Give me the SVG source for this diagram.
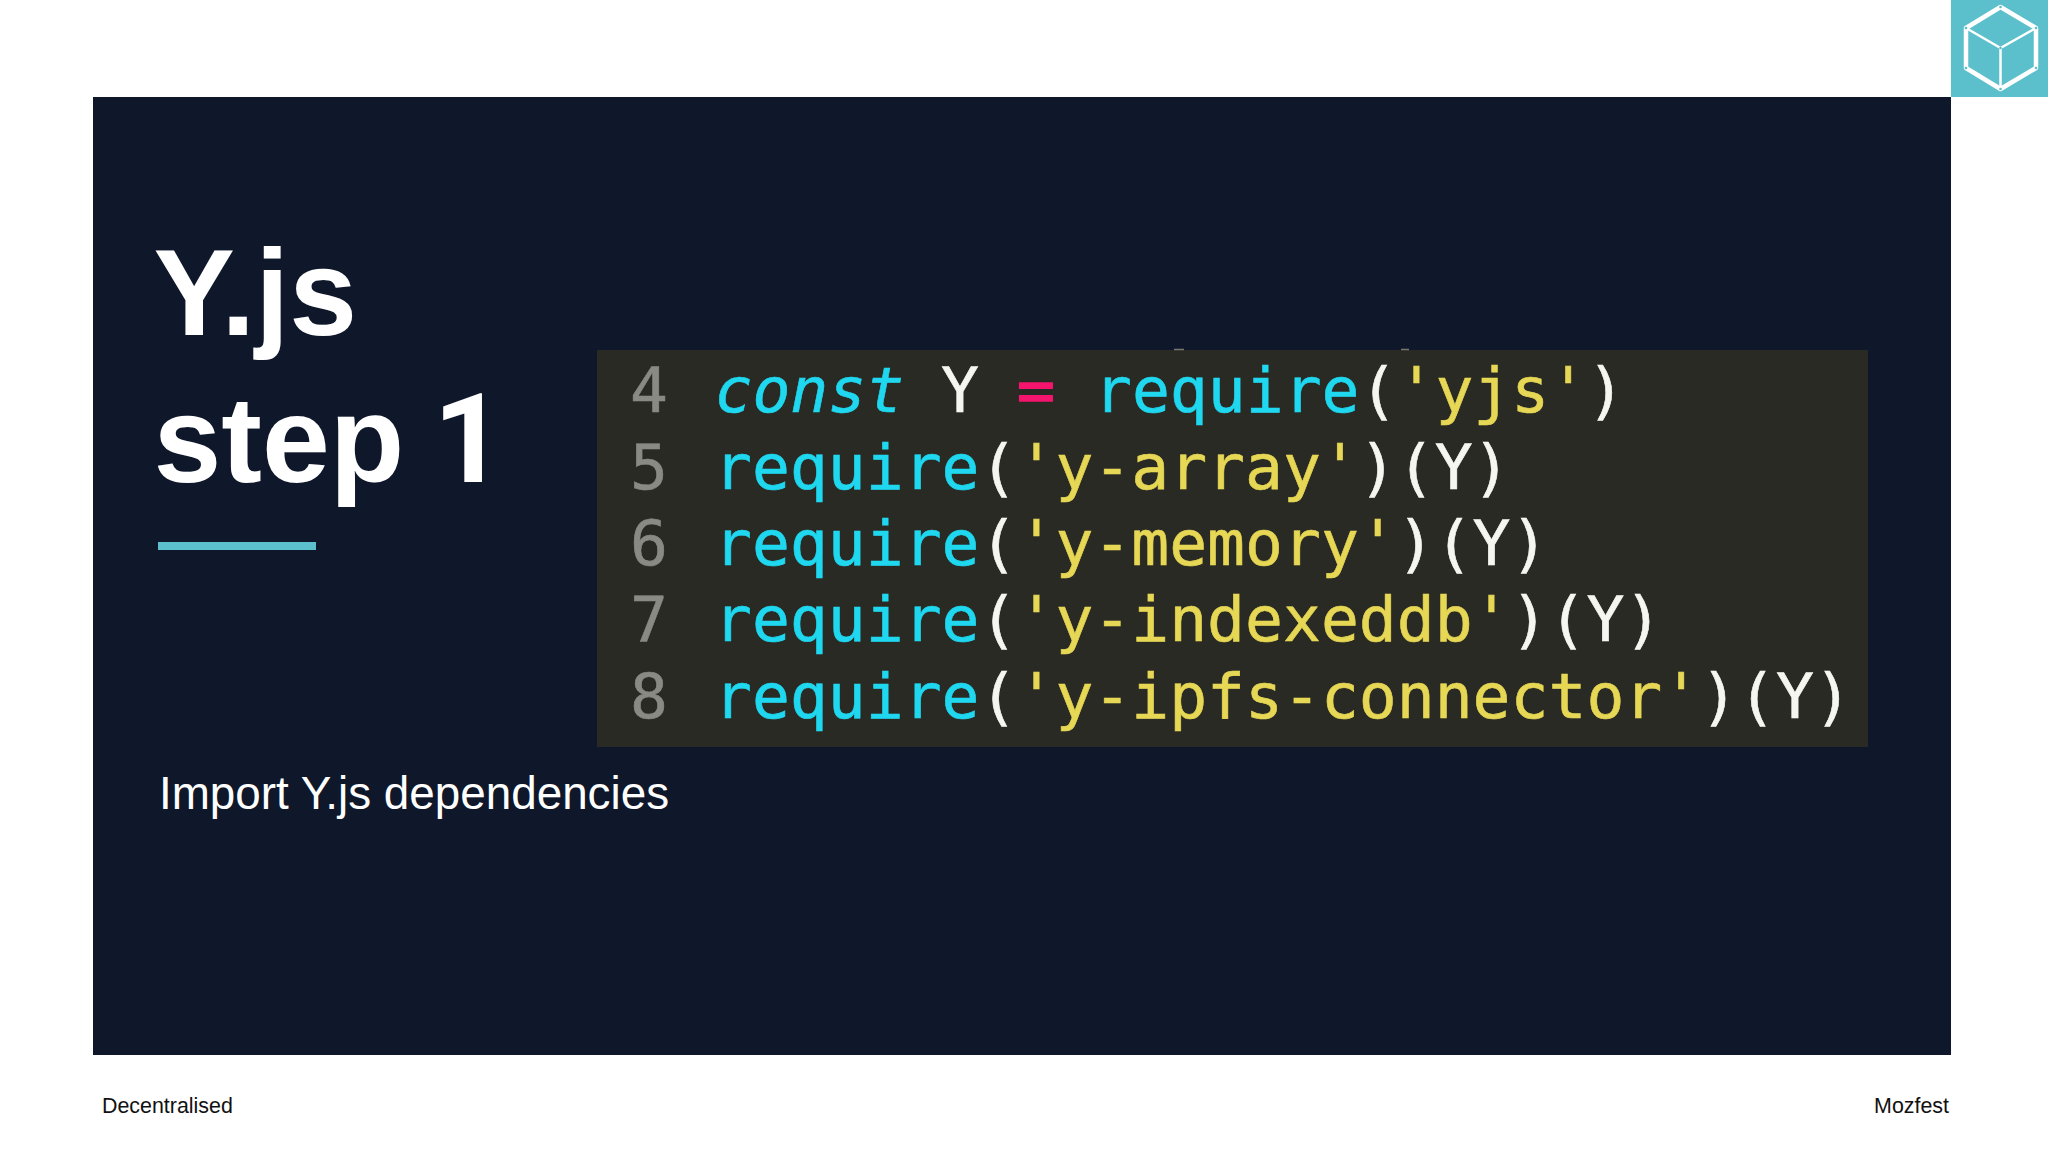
<svg xmlns="http://www.w3.org/2000/svg" width="2048" height="1152" viewBox="0 0 2048 1152">
<style>
.ui{font-family:"Liberation Sans",Arial,sans-serif}
.title{font-size:122px;font-weight:700;fill:#fff}
.code{font-family:"DejaVu Sans Mono","Liberation Mono",monospace;font-size:63px;white-space:pre;stroke-width:.6px}
.n{fill:#8a8a84;stroke:#8a8a84}.c{fill:#1fd8f0;stroke:#1fd8f0}.s{fill:#e6d755;stroke:#e6d755}.w{fill:#f6f6f0;stroke:#f6f6f0}.p{fill:#f5146e;stroke:#f5146e;stroke-width:1.6px}
.cube{fill:none;stroke:#fff;stroke-linejoin:round}
.dot{fill:#5bc0cb}
</style>
<rect width="2048" height="1152" fill="#fff"/>
<rect id="panel" x="93" y="97" width="1858" height="958" fill="#0f172a"/>
<g id="logo">
<rect x="1951" y="0" width="97" height="97" fill="#5bc0cb"/>
<path class="cube" stroke-width="4.5" d="M2000.5 7L2036 28V68L2000.5 89L1966 68V28Z"/>
<path class="cube" stroke-width="2.5" d="M1966 28L2000.5 48L2036 28M2000.5 48V89"/>
<circle class="dot" cx="2000.5" cy="7" r="1.3"/><circle class="dot" cx="2036" cy="28" r="1.3"/><circle class="dot" cx="2036" cy="68" r="1.3"/><circle class="dot" cx="2000.5" cy="89" r="1.3"/><circle class="dot" cx="1966" cy="68" r="1.3"/><circle class="dot" cx="1966" cy="28" r="1.3"/><circle class="dot" cx="2000.5" cy="48" r="1.3"/>
</g>
<g id="title" class="ui">
<text class="title" x="153.5" y="335">Y.js</text>
<text class="title" x="153.5" y="482">step <tspan x="433" font-family="Roboto,sans-serif" font-size="125">1</tspan></text>
<rect x="158" y="542" width="158" height="8" fill="#5bc0cb"/>
</g>
<rect id="code-bg" x="597" y="350" width="1271" height="397" fill="#2a2a25"/>
<path id="specks" d="M1174 349.5h10M1401 349.5h8" stroke="#77776f" stroke-width="1.5" fill="none"/>
<g id="code" class="code">
<text y="412"><tspan class="n" x="630">4</tspan><tspan class="c" x="714.5" font-style="italic">const</tspan><tspan class="w" x="941">Y</tspan><tspan class="p" x="1017">=</tspan><tspan class="c" x="1094">require</tspan><tspan class="w">(</tspan><tspan class="s">'yjs'</tspan><tspan class="w">)</tspan></text>
<text y="489"><tspan class="n" x="630">5</tspan><tspan class="c" x="714">require</tspan><tspan class="w">(</tspan><tspan class="s">'y-array'</tspan><tspan class="w">)(Y)</tspan></text>
<text y="565"><tspan class="n" x="630">6</tspan><tspan class="c" x="714">require</tspan><tspan class="w">(</tspan><tspan class="s">'y-memory'</tspan><tspan class="w">)(Y)</tspan></text>
<text y="641"><tspan class="n" x="630">7</tspan><tspan class="c" x="714">require</tspan><tspan class="w">(</tspan><tspan class="s">'y-indexeddb'</tspan><tspan class="w">)(Y)</tspan></text>
<text y="718"><tspan class="n" x="630">8</tspan><tspan class="c" x="714">require</tspan><tspan class="w">(</tspan><tspan class="s">'y-ipfs-connector'</tspan><tspan class="w">)(Y)</tspan></text>
</g>
<text id="subtitle" class="ui" x="159" y="809" font-size="45.8" fill="#fff">Import Y.js dependencies</text>
<text id="footer-left" class="ui" x="102" y="1113" font-size="21.4" fill="#111">Decentralised</text>
<text id="footer-right" class="ui" x="1949" y="1113" font-size="21.4" fill="#111" text-anchor="end">Mozfest</text>
</svg>
